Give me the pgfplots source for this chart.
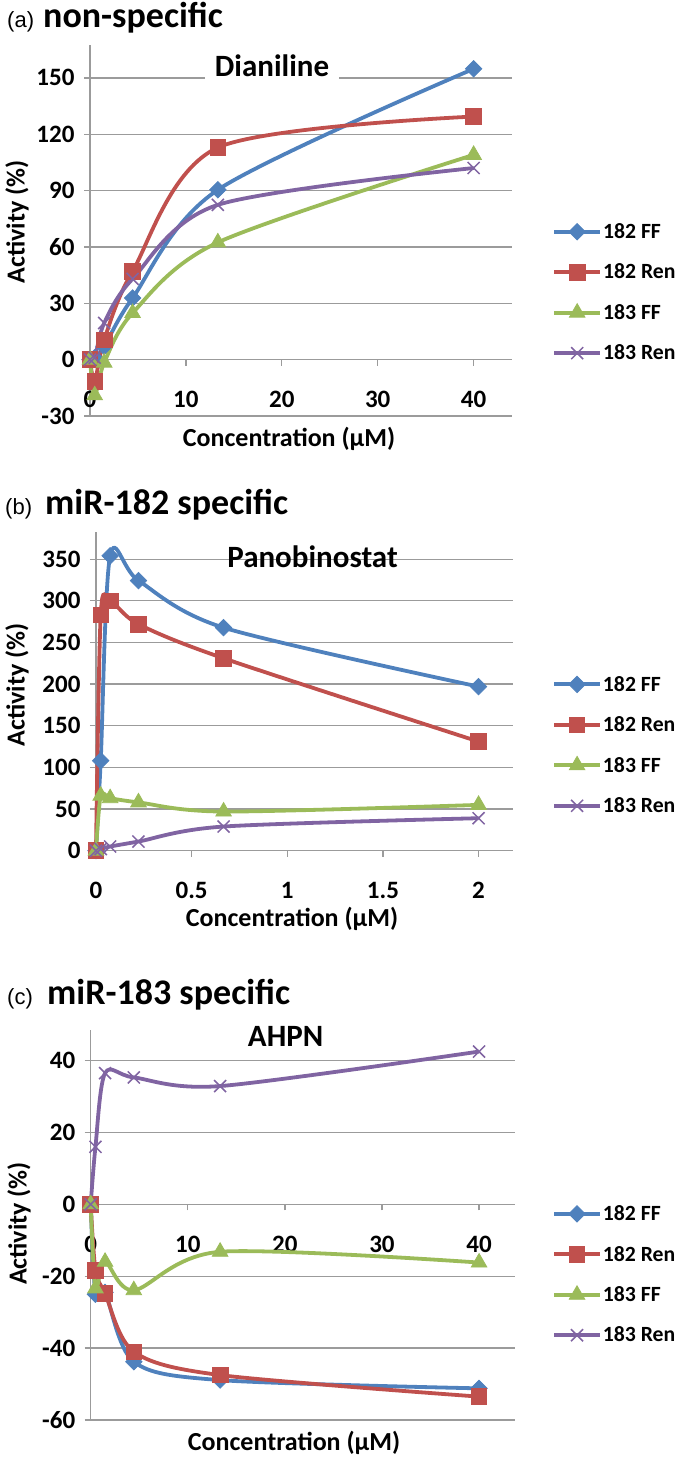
\documentclass[border=0pt]{standalone}
\usepackage{fontspec}
\setmainfont{Carlito}
\newfontfamily\arialfont{Liberation Sans}
\usepackage{pgfplots}
\pgfplotsset{compat=1.18}
\definecolor{cblue}{RGB}{79,129,189}
\definecolor{cred}{RGB}{192,80,77}
\definecolor{cgreen}{RGB}{155,187,89}
\definecolor{cpurple}{RGB}{128,100,162}
\definecolor{gridgray}{RGB}{155,155,155}
\newcommand\tickfont{\fontsize{25bp}{29bp}\selectfont\bfseries}
\newcommand\labfont{\fontsize{26bp}{30bp}\selectfont\bfseries}
\newcommand\legfont{\fontsize{21.7bp}{26bp}\selectfont\bfseries}
\newcommand\ttlfont{\fontsize{31bp}{36bp}\selectfont\bfseries}
\newcommand\panfont{\fontsize{36bp}{42bp}\selectfont\bfseries}
\pgfplotsset{
  panel/.style={
    scale only axis, anchor=south west,
    axis x line=middle, axis y line=left,
    axis line style={-, draw=gridgray, line width=1.3bp},
    ymajorgrids, grid style={draw=gridgray, line width=1.3bp},
    major tick style={draw=gridgray, line width=1.3bp},
    major tick length=6bp,
    tick align=outside,
    hide obscured x ticks=false, hide obscured y ticks=false,
    ticklabel style={font=\tickfont},
    xticklabel style={yshift=-22bp},
    yticklabel style={xshift=-6bp},
    /pgf/number format/assume math mode=true,
    clip=false,
    legend cell align=left,
    legend style={draw=none, fill=none, font=\legfont, inner sep=0pt, anchor=west,
      row sep=22bp, nodes={inner sep=1bp},
      /tikz/every even column/.append style={column sep=4bp}},
    legend image code/.code={\draw[mark repeat=2,mark phase=2,##1] plot coordinates {(0bp,0bp) (23bp,0bp) (46bp,0bp)};},
  },
  s1/.style={cblue, line width=3.8bp, smooth, mark=square*, mark size=5.8bp, mark options={solid, rotate=45, fill=cblue, line width=0.8bp}},
  s2/.style={cred, line width=3.8bp, smooth, mark=square*, mark size=7.8bp, mark options={solid, fill=cred, line width=0.8bp}},
  s3/.style={cgreen, line width=3.8bp, smooth, mark=triangle*, mark size=9bp, mark options={solid, fill=cgreen, line width=0.8bp}},
  s4/.style={cpurple, line width=3.8bp, smooth, mark=x, mark size=8.5bp, mark options={solid, line width=1.5bp}},
}
\begin{document}
\begin{tikzpicture}[x=1bp,y=1bp]
% ---------------- panel (a)
\begin{axis}[panel, at={(90bp,1044bp)}, width=422bp, height=371bp,
  xmin=0, xmax=44, ymin=-30, ymax=167.5,
  xtick={0,10,20,30,40}, ytick={-30,0,30,60,90,120,150},
  legend style={at={(axis description cs:1.095,0.333)}}]
\addplot[s1] coordinates {(0,0) (0.49,1) (1.48,7) (4.44,32.8) (13.33,90.4) (40,154.8)};
\addplot[s2] coordinates {(0,0) (0.49,-11.5) (1.48,10.6) (4.44,47) (13.33,112.9) (40,129.4)};
\addplot[s3] coordinates {(0,0) (0.49,-19) (1.48,-1.6) (4.44,24.8) (13.33,62.4) (40,109)};
\addplot[s4] coordinates {(0,0) (0.49,1) (1.48,19.5) (4.44,43) (13.33,82.4) (40,102)};
\legend{182 FF,182 Ren,183 FF,183 Ren}
\end{axis}
\node[anchor=base west, inner sep=0pt, font=\arialfont\fontsize{22bp}{26bp}\selectfont] at (7,1432) {(a)};
\node[anchor=base west, inner sep=0pt, font=\panfont] at (43,1432) {non-specific};
\node[anchor=base, fill=white, inner xsep=10bp, inner ysep=4bp, font=\ttlfont] at (272,1383) {Dianiline};
\node[anchor=base, inner sep=0pt, font=\labfont] at (289,1013) {Concentration (µM)};
\node[rotate=90, inner sep=0pt, font=\labfont] at (17,1238) {Activity (\%)};
% ---------------- panel (b)
\begin{axis}[panel, at={(96bp,609.3bp)}, width=417bp, height=319bp,
  xmin=0, xmax=2.18, ymin=0, ymax=383,
  xtick={0,0.5,1,1.5,2}, ytick={0,50,100,150,200,250,300,350},
  legend style={at={(axis description cs:1.0935,0.331)}}]
\addplot[s1] coordinates {(0,0) (0.0247,108) (0.074,354) (0.222,324.3) (0.667,267.8) (2,197)};
\addplot[s2] coordinates {(0,0) (0.0247,283) (0.074,300) (0.222,272) (0.667,231) (2,131)};
\addplot[s3] coordinates {(0,0) (0.0247,66) (0.074,63) (0.222,58) (0.667,47) (2,55)};
\addplot[s4] coordinates {(0,0) (0.0247,2) (0.074,5) (0.222,11) (0.667,29) (2,39)};
\legend{182 FF,182 Ren,183 FF,183 Ren}
\end{axis}
\node[anchor=base west, inner sep=0pt, font=\arialfont\fontsize{22bp}{26bp}\selectfont] at (5,945) {(b)};
\node[anchor=base west, inner sep=0pt, font=\panfont] at (45,945) {miR-182 specific};
\node[anchor=base, inner sep=0pt, font=\ttlfont] at (312.5,892) {Panobinostat};
\node[anchor=base, inner sep=0pt, font=\labfont] at (292,533) {Concentration (µM)};
\node[rotate=90, inner sep=0pt, font=\labfont] at (17,775) {Activity (\%)};
% ---------------- panel (c)
\begin{axis}[panel, at={(90.7bp,40bp)}, width=424.3bp, height=390bp,
  xmin=0, xmax=43.7, ymin=-60, ymax=48.5,
  xtick={0,10,20,30,40}, ytick={-60,-40,-20,0,20,40},
  legend style={at={(axis description cs:1.087,0.373)}}]
\addplot[s1] coordinates {(0,0) (0.49,-25) (1.48,-24.5) (4.44,-43.8) (13.33,-48.9) (40,-51.2)};
\addplot[s2] coordinates {(0,0) (0.49,-18.3) (1.48,-24.8) (4.44,-41) (13.33,-47.5) (40,-53.5)};
\addplot[s3] coordinates {(0,0) (0.49,-23.4) (1.48,-16) (4.44,-23.9) (13.33,-13.2) (40,-16.2)};
\addplot[s4] coordinates {(0,0) (0.49,16) (1.48,36.5) (4.44,35.3) (13.33,32.9) (40,42.5)};
\legend{182 FF,182 Ren,183 FF,183 Ren}
\end{axis}
\node[anchor=base west, inner sep=0pt, font=\arialfont\fontsize{22bp}{26bp}\selectfont] at (7,455) {(c)};
\node[anchor=base west, inner sep=0pt, font=\panfont] at (47,455) {miR-183 specific};
\node[anchor=base, inner sep=0pt, font=\ttlfont] at (285.6,413) {AHPN};
\node[anchor=base, inner sep=0pt, font=\labfont] at (294,10) {Concentration (µM)};
\node[rotate=90, inner sep=0pt, font=\labfont] at (19,236.5) {Activity (\%)};
\pgfresetboundingbox
\useasboundingbox (0bp,0bp) rectangle (680bp,1460bp);
\end{tikzpicture}
\end{document}
